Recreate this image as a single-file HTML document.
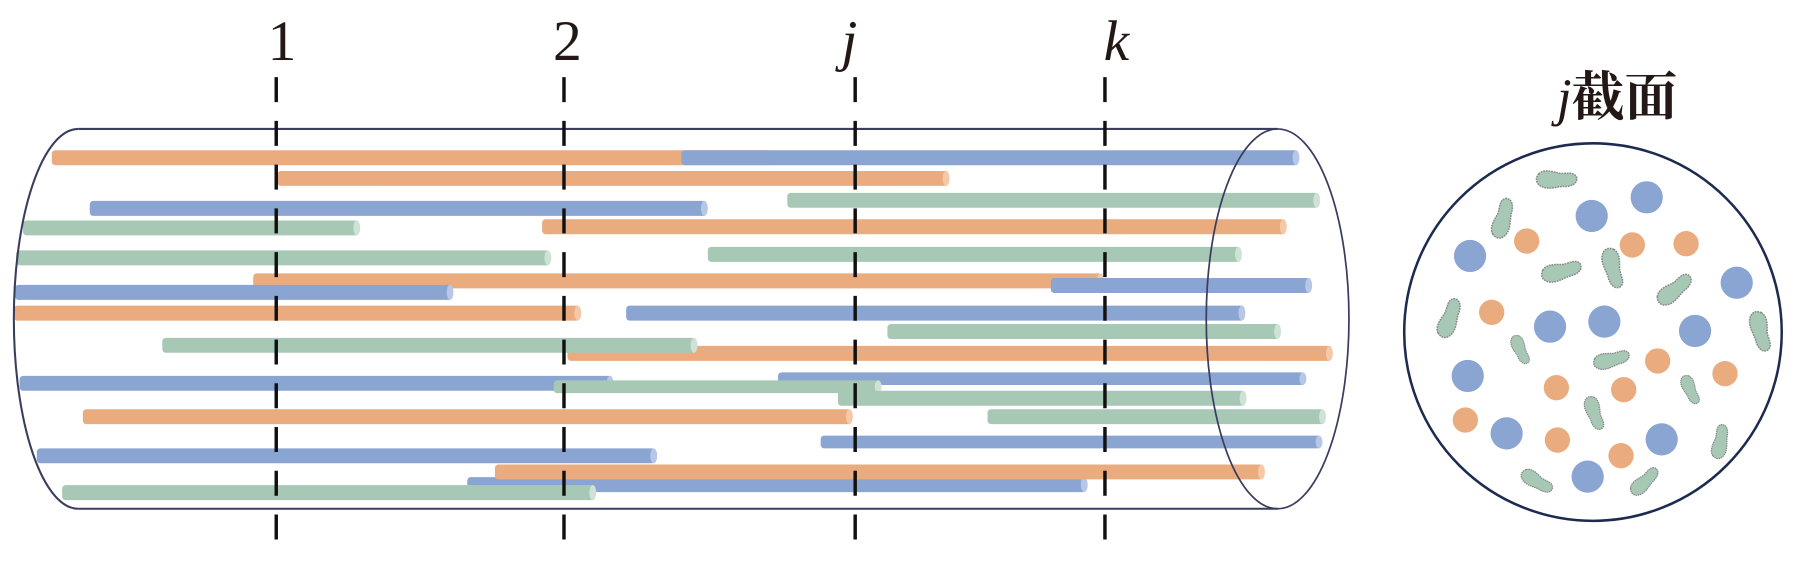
<!DOCTYPE html>
<html><head><meta charset="utf-8"><style>html,body{margin:0;padding:0;background:#fff;}svg{display:block}</style></head>
<body>
<svg width="1796" height="563" viewBox="0 0 1560.4 489.1" xmlns="http://www.w3.org/2000/svg">
<defs>
<g id="blob"><path d="M-16,-4 C-12,-9 -4,-7 2,-6 C8,-6 14,-9 17,-4 C19,2 12,5 6,5 C0,6 -6,9 -12,7 C-18,5 -19,0 -16,-4 Z" fill="#a7c8b5" stroke="#888" stroke-width="1.3" stroke-dasharray="1.5 0.8"/></g>
</defs>
<g>
<rect x="45" y="130.5" width="625" height="13" rx="3" fill="#eaab7e"/><ellipse cx="668" cy="137" rx="3" ry="6.5" fill="#f5c9a8"/>
<rect x="592" y="130.5" width="536" height="13" rx="3" fill="#8aa5d2"/><ellipse cx="1126" cy="137" rx="3" ry="6.5" fill="#b7c8e6"/>
<rect x="241" y="148.5" width="583" height="13" rx="3" fill="#eaab7e"/><ellipse cx="822" cy="155" rx="3" ry="6.5" fill="#f5c9a8"/>
<rect x="684" y="167.5" width="462" height="13" rx="3" fill="#a7c8b5"/><ellipse cx="1144" cy="174" rx="3" ry="6.5" fill="#cfe2d6"/>
<rect x="78" y="174.5" width="536" height="13" rx="3" fill="#8aa5d2"/><ellipse cx="612" cy="181" rx="3" ry="6.5" fill="#b7c8e6"/>
<rect x="20" y="191.5" width="292" height="13" rx="3" fill="#a7c8b5"/><ellipse cx="310" cy="198" rx="3" ry="6.5" fill="#cfe2d6"/>
<rect x="471" y="190.5" width="646" height="13" rx="3" fill="#eaab7e"/><ellipse cx="1115" cy="197" rx="3" ry="6.5" fill="#f5c9a8"/>
<rect x="14" y="217.5" width="464" height="13" rx="3" fill="#a7c8b5"/><ellipse cx="476" cy="224" rx="3" ry="6.5" fill="#cfe2d6"/>
<rect x="615" y="214.5" width="463" height="13" rx="3" fill="#a7c8b5"/><ellipse cx="1076" cy="221" rx="3" ry="6.5" fill="#cfe2d6"/>
<rect x="220" y="237.5" width="738" height="13" rx="3" fill="#eaab7e"/><ellipse cx="956" cy="244" rx="3" ry="6.5" fill="#f5c9a8"/>
<rect x="913" y="241.5" width="226" height="13" rx="3" fill="#8aa5d2"/><ellipse cx="1137" cy="248" rx="3" ry="6.5" fill="#b7c8e6"/>
<rect x="13" y="247.5" width="380" height="13" rx="3" fill="#8aa5d2"/><ellipse cx="391" cy="254" rx="3" ry="6.5" fill="#b7c8e6"/>
<rect x="12" y="265.5" width="492" height="13" rx="3" fill="#eaab7e"/><ellipse cx="502" cy="272" rx="3" ry="6.5" fill="#f5c9a8"/>
<rect x="544" y="265.5" width="537" height="13" rx="3" fill="#8aa5d2"/><ellipse cx="1079" cy="272" rx="3" ry="6.5" fill="#b7c8e6"/>
<rect x="771" y="281.5" width="341" height="13" rx="3" fill="#a7c8b5"/><ellipse cx="1110" cy="288" rx="3" ry="6.5" fill="#cfe2d6"/>
<rect x="493" y="300.5" width="664" height="13" rx="3" fill="#eaab7e"/><ellipse cx="1155" cy="307" rx="3" ry="6.5" fill="#f5c9a8"/>
<rect x="141" y="293.5" width="464" height="13" rx="3" fill="#a7c8b5"/><ellipse cx="603" cy="300" rx="3" ry="6.5" fill="#cfe2d6"/>
<rect x="17" y="326.5" width="515" height="13" rx="3" fill="#8aa5d2"/><ellipse cx="530" cy="333" rx="3" ry="6.5" fill="#b7c8e6"/>
<rect x="676" y="323.5" width="458" height="11" rx="3" fill="#8aa5d2"/><ellipse cx="1132" cy="329" rx="3" ry="5.5" fill="#b7c8e6"/>
<rect x="481" y="330.5" width="284" height="11" rx="3" fill="#a7c8b5"/><ellipse cx="763" cy="336" rx="3" ry="5.5" fill="#cfe2d6"/>
<rect x="728" y="339.5" width="354" height="13" rx="3" fill="#a7c8b5"/><ellipse cx="1080" cy="346" rx="3" ry="6.5" fill="#cfe2d6"/>
<rect x="72" y="355.5" width="668" height="13" rx="3" fill="#eaab7e"/><ellipse cx="738" cy="362" rx="3" ry="6.5" fill="#f5c9a8"/>
<rect x="858" y="355.5" width="293" height="13" rx="3" fill="#a7c8b5"/><ellipse cx="1149" cy="362" rx="3" ry="6.5" fill="#cfe2d6"/>
<rect x="713" y="378.5" width="435" height="11" rx="3" fill="#8aa5d2"/><ellipse cx="1146" cy="384" rx="3" ry="5.5" fill="#b7c8e6"/>
<rect x="32" y="389.5" width="538" height="13" rx="3" fill="#8aa5d2"/><ellipse cx="568" cy="396" rx="3" ry="6.5" fill="#b7c8e6"/>
<rect x="406" y="414.5" width="538" height="13" rx="3" fill="#8aa5d2"/><ellipse cx="942" cy="421" rx="3" ry="6.5" fill="#b7c8e6"/>
<rect x="430" y="403.5" width="668" height="13" rx="3" fill="#eaab7e"/><ellipse cx="1096" cy="410" rx="3" ry="6.5" fill="#f5c9a8"/>
<rect x="54" y="421.5" width="463" height="13" rx="3" fill="#a7c8b5"/><ellipse cx="515" cy="428" rx="3" ry="6.5" fill="#cfe2d6"/>
</g>
<g fill="none" stroke="#3b3d5e" stroke-width="1.8">
<path d="M68,112 A56,165 0 0 0 68,442"/>
<line x1="68" y1="112" x2="1110" y2="112"/>
<line x1="68" y1="442" x2="1110" y2="442"/>
<ellipse cx="1110" cy="277" rx="62" ry="165" stroke-width="1.5"/>
</g>
<g stroke="#111" stroke-width="3" stroke-dasharray="21.7 16.3">
<line x1="240" y1="67" x2="240" y2="482"/>
<line x1="490" y1="67" x2="490" y2="482"/>
<line x1="743" y1="67" x2="743" y2="482"/>
<line x1="960" y1="67" x2="960" y2="482"/>
</g>
<g font-family="Liberation Serif, serif" font-size="50" fill="#231815" text-anchor="middle">
<text x="245" y="52">1</text>
<text x="493" y="52">2</text>
<text x="738" y="52" font-style="italic">j</text>
<text x="970" y="52" font-style="italic">k</text>
<text x="1405" y="100" font-size="46" font-weight="bold"><tspan font-style="italic" font-weight="normal">j</tspan><tspan font-family="Liberation Serif, Noto Serif CJK SC, serif">截面</tspan></text>
</g>
<circle cx="1384" cy="288.5" r="164" fill="#fff" stroke="#1c2b4f" stroke-width="2.2"/>
<g fill="#eaab7e">
<circle cx="1326.4" cy="209.4" r="11"/><circle cx="1418.2" cy="212.8" r="11"/><circle cx="1464.9" cy="211.7" r="11"/><circle cx="1296" cy="271.3" r="11"/><circle cx="1440.2" cy="313.6" r="11"/><circle cx="1498.7" cy="324.6" r="11"/><circle cx="1352.2" cy="336.8" r="11"/><circle cx="1410.7" cy="338.5" r="11"/><circle cx="1273.1" cy="364.9" r="11"/><circle cx="1353.1" cy="382.3" r="11"/><circle cx="1408.4" cy="395.9" r="11"/>
</g>
<g fill="#8aa5d2">
<circle cx="1382.9" cy="187.6" r="14"/><circle cx="1430.7" cy="171.4" r="14"/><circle cx="1277.2" cy="222.4" r="14"/><circle cx="1508.9" cy="245.6" r="14"/><circle cx="1346.7" cy="283.8" r="14"/><circle cx="1393.9" cy="279.4" r="14"/><circle cx="1472.7" cy="287.5" r="14"/><circle cx="1275.2" cy="326.6" r="14"/><circle cx="1309" cy="376.5" r="14"/><circle cx="1443.7" cy="381.7" r="14"/><circle cx="1379.4" cy="414.1" r="14"/>
</g>
<use href="#blob" transform="translate(1352.5,156.4) rotate(5)"/>
<use href="#blob" transform="translate(1306.2,189.7) rotate(-70)"/>
<use href="#blob" transform="translate(1356.8,236) rotate(-10)"/>
<use href="#blob" transform="translate(1400.9,233.1) rotate(80)"/>
<use href="#blob" transform="translate(1455.3,251.9) rotate(-35)"/>
<use href="#blob" transform="translate(1529.1,288.1) rotate(80)"/>
<use href="#blob" transform="translate(1259.8,276.5) rotate(-65)"/>
<use href="#blob" transform="translate(1320.6,304) rotate(70) scale(0.75)"/>
<use href="#blob" transform="translate(1400.3,312.7) rotate(-10) scale(0.9)"/>
<use href="#blob" transform="translate(1468.3,338.8) rotate(70) scale(0.75)"/>
<use href="#blob" transform="translate(1384.9,359.1) rotate(75) scale(0.85)"/>
<use href="#blob" transform="translate(1495,383.7) rotate(-75) scale(0.85)"/>
<use href="#blob" transform="translate(1335.1,418.5) rotate(35) scale(0.85)"/>
<use href="#blob" transform="translate(1429.2,418.5) rotate(-40) scale(0.85)"/>
</svg>
</body></html>
